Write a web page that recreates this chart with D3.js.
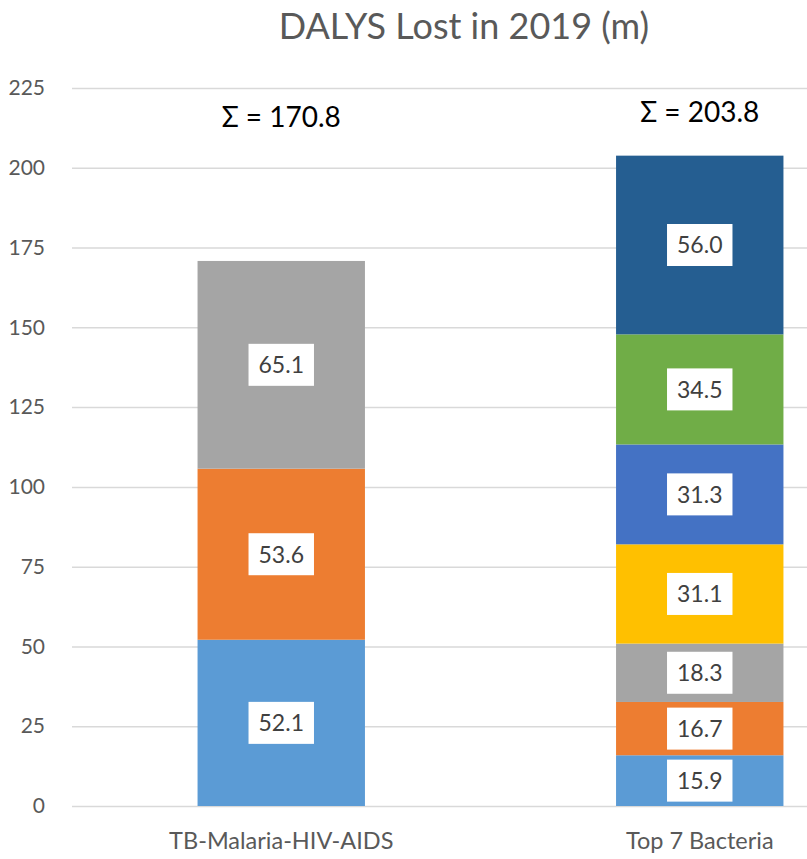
<!DOCTYPE html>
<html>
<head>
<meta charset="utf-8">
<script src="https://cdn.jsdelivr.net/npm/d3@7"></script>
<style>
  body { margin: 0; background: #fff; }
  text { font-family: Lato, "Open Sans", sans-serif; }
</style>
</head>
<body>
<svg id="chart" width="807" height="859"></svg>
<script>
const categories = ['TB-Malaria-HIV-AIDS', 'Top 7 Bacteria']
const tbValues = [52.1, 53.6, 65.1]
const bacteriaValues = [15.9, 16.7, 18.3, 31.1, 31.3, 34.5, 56.0]
const tbColors = ['#5b9bd5', '#ed7d31', '#a5a5a5']
const bacteriaColors = ['#5b9bd5', '#ed7d31', '#a5a5a5', '#ffc000', '#4472c4', '#70ad47', '#255e91']
const yTicks = [0, 25, 50, 75, 100, 125, 150, 175, 200, 225]
const sigmaLevels = [212.9, 214.5]   // where the sum notes sit, in y units

const title = 'DALYS Lost in 2019 (m)'

let svg = d3.select('#chart')
let width = 807

let yScale = d3.scaleLinear()
    .domain([0, 225])
    .range([806, 88])

let xScale = d3.scaleBand()
    .domain(categories)
    .range([72, 909])
    .paddingInner(0.6)
    .paddingOuter(0.3)

// y axis + gridlines
let yAxisGen = d3.axisLeft(yScale)
    .tickValues(yTicks)
    .tickSize(-(width - 72))
    .tickPadding(27)
    .tickFormat(d3.format('d'))

let yAxis = svg.append('g')
    .attr('transform', 'translate(72,0)')
    .call(yAxisGen)
yAxis.select('.domain').remove()
yAxis.selectAll('line')
    .attr('stroke', '#d9d9d9')
    .attr('stroke-width', 1.5)
yAxis.selectAll('text')
    .attr('fill', '#595959')
    .style('font-size', '21px')

// x axis labels
let xAxisGen = d3.axisBottom(xScale)
    .tickSize(0)
    .tickPadding(26)

let xAxis = svg.append('g')
    .attr('transform', 'translate(0,806)')
    .call(xAxisGen)
xAxis.select('.domain').remove()
xAxis.selectAll('text')
    .attr('fill', '#595959')
    .style('font-size', '23.5px')

// stack segments
function stackOf(values, colors) {
    let base = 0
    return values.map((v, i) => {
        let seg = { v: v, y0: base, y1: base + v, color: colors[i] }
        base += v
        return seg
    })
}

let stacks = [
    { cat: categories[0], segs: stackOf(tbValues, tbColors), total: d3.sum(tbValues) },
    { cat: categories[1], segs: stackOf(bacteriaValues, bacteriaColors), total: d3.sum(bacteriaValues) }
]

let groups = svg.selectAll('.stack')
    .data(stacks)
    .join('g')
    .attr('class', 'stack')

groups.selectAll('rect.seg')
    .data(d => d.segs.map(s => Object.assign({ cat: d.cat }, s)))
    .join('rect')
    .attr('class', 'seg')
    .attr('x', d => xScale(d.cat))
    .attr('width', xScale.bandwidth())
    .attr('y', d => yScale(d.y1))
    .attr('height', d => yScale(d.y0) - yScale(d.y1))
    .attr('fill', d => d.color)

// value labels in white boxes
let labels = groups.selectAll('g.lab')
    .data(d => d.segs.map(s => Object.assign({ cat: d.cat }, s)))
    .join('g')
    .attr('class', 'lab')
    .attr('transform', d => `translate(${xScale(d.cat) + xScale.bandwidth() / 2},${yScale((d.y0 + d.y1) / 2)})`)

labels.append('rect')
    .attr('fill', '#fff')

labels.append('text')
    .attr('text-anchor', 'middle')
    .attr('dy', '0.36em')
    .attr('fill', '#404040')
    .style('font-size', '23px')
    .text(d => d.v.toFixed(1))

labels.each(function() {
    let g = d3.select(this)
    let bb = g.select('text').node().getBBox()
    let w = bb.width + 20
    let h = 42
    g.select('rect')
        .attr('x', -w / 2)
        .attr('y', -h / 2)
        .attr('width', w)
        .attr('height', h)
})

// sum notes
svg.selectAll('.sigma')
    .data(stacks)
    .join('text')
    .attr('class', 'sigma')
    .attr('x', d => xScale(d.cat) + xScale.bandwidth() / 2)
    .attr('y', (d, i) => yScale(sigmaLevels[i]))
    .attr('text-anchor', 'middle')
    .attr('fill', '#000')
    .style('font-size', '28px')
    .text(d => 'Σ = ' + d.total.toFixed(1))

// title
svg.append('text')
    .attr('x', 464)
    .attr('y', 39)
    .attr('text-anchor', 'middle')
    .attr('fill', '#595959')
    .style('font-size', '36px')
    .text(title)
</script>
</body>
</html>
